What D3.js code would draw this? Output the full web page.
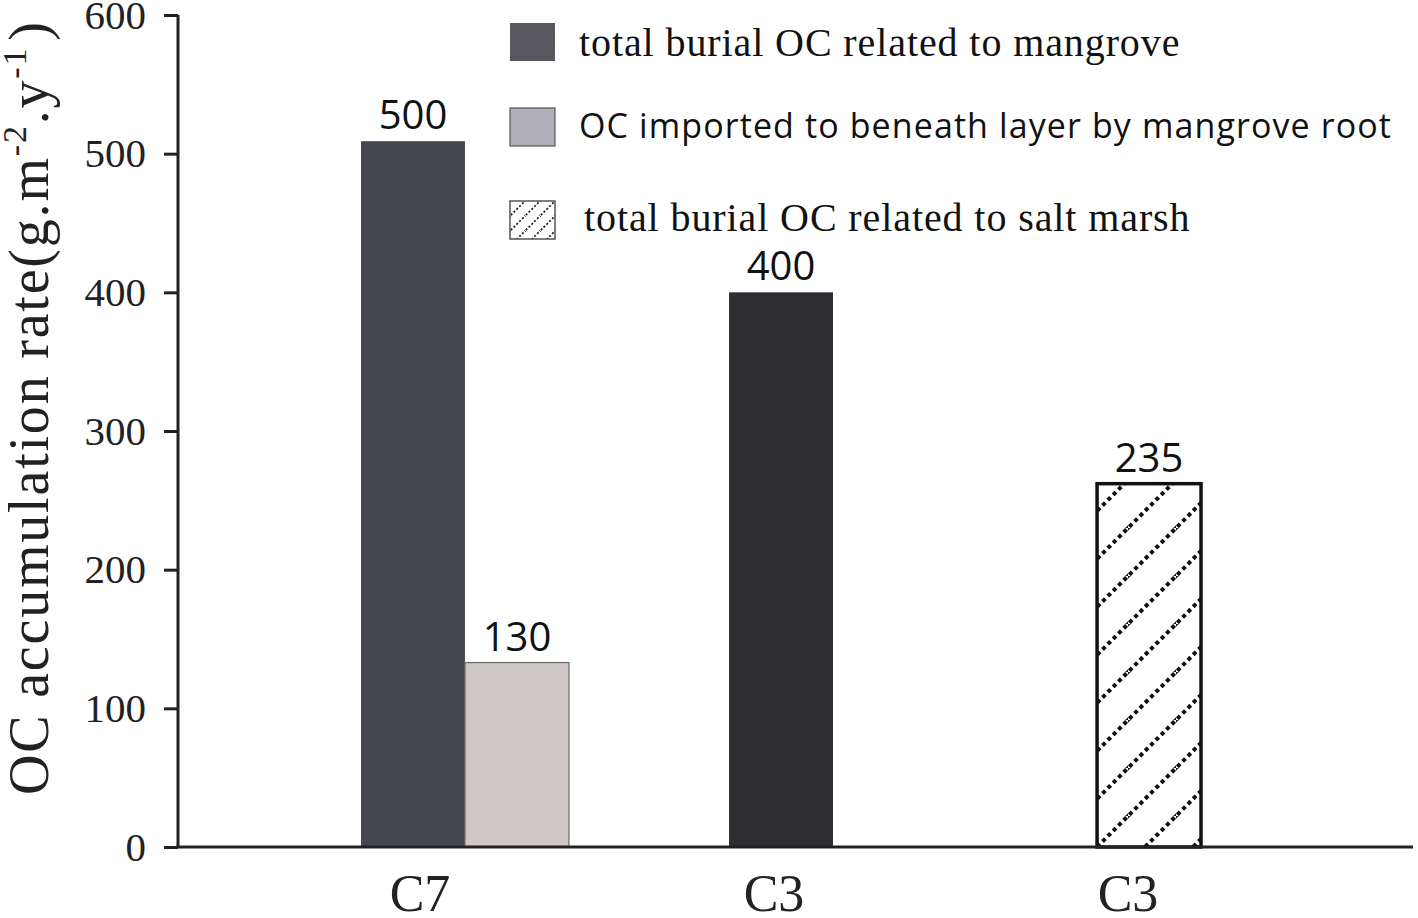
<!DOCTYPE html>
<html>
<head>
<meta charset="utf-8">
<script src="https://cdn.jsdelivr.net/npm/d3@7"></script>
<style>
  html, body { margin: 0; padding: 0; background: #fff; }
  svg { display: block; }
</style>
</head>
<body>
<svg id="chart" width="1418" height="918"></svg>
<script>
// ---- data ----
const categories = ["C7", "C3", "C3"];
const seriesNames = [
  "total burial OC related to mangrove",
  "OC imported to beneath layer by mangrove root",
  "total burial OC related to salt marsh"
];
const barGroup  = [0, 0, 1, 2];
const barSlot   = [0, 1, 0, 0];
const barSeries = [0, 1, 0, 2];
const barValues = [509, 133, 400, 262];
const barLabels = ["500", "130", "400", "235"];
const yTicks = [0, 100, 200, 300, 400, 500, 600];

// ---- styles ----
const barFills   = ["#46464f", "#d1c7c7", "#2d2d32", "url(#hatch)"];
const barStrokes = ["none", "#6a6a6a", "none", "#111"];
const barStrokeW = [0, 1.2, 0, 3.5];
const legendFills = ["#58585e", "#b0aeb8", "url(#hatchSmall)"];
const legendFonts = ["'Liberation Serif', 'Times New Roman', serif", "'Open Sans', sans-serif", "'Liberation Serif', 'Times New Roman', serif"];

const svg = d3.select("#chart");
svg.append("rect").attr("width", 1418).attr("height", 918).attr("fill", "#fff");

const defs = svg.append("defs");
const hatch = defs.append("pattern").attr("id", "hatch")
  .attr("patternUnits", "userSpaceOnUse").attr("width", 48).attr("height", 48)
  .attr("x", 24).attr("y", 0);
hatch.append("rect").attr("width", 48).attr("height", 48).attr("fill", "#fff");
hatch.append("path").attr("d", "M-4,52 L52,-4 M-28,28 L28,-28 M20,76 L76,20")
  .attr("stroke", "#111").attr("stroke-width", 4).attr("stroke-dasharray", "4,3.5");

const hs = defs.append("pattern").attr("id", "hatchSmall")
  .attr("patternUnits", "userSpaceOnUse").attr("width", 15).attr("height", 15);
hs.append("rect").attr("width", 15).attr("height", 15).attr("fill", "#fff");
hs.append("path").attr("d", "M-2,17 L17,-2 M-9.5,9.5 L9.5,-9.5 M5.5,24.5 L24.5,5.5")
  .attr("stroke", "#222").attr("stroke-width", 1.8).attr("stroke-dasharray", "2,2");

// ---- scales ----
const y = d3.scaleLinear().domain([0, 600]).range([847, 15]);
const x = d3.scaleBand().domain(d3.range(categories.length))
  .range([361, 1305]).paddingInner(0.435).paddingOuter(0);
const xs = d3.scaleBand().domain([0, 1]).range([0, x.bandwidth()]);
const xLabel = d3.scalePoint().domain(d3.range(categories.length)).range([420, 1128]);

// ---- bars ----
const bars = barValues.map((v, i) => ({ i, v, g: barGroup[i], s: barSlot[i], label: barLabels[i] }));

svg.append("g").selectAll("rect").data(bars).join("rect")
  .attr("x", d => x(d.g) + xs(d.s))
  .attr("y", d => y(d.v))
  .attr("width", xs.bandwidth())
  .attr("height", d => y(0) - y(d.v))
  .attr("fill", d => barFills[d.i])
  .attr("stroke", d => barStrokes[d.i])
  .attr("stroke-width", d => barStrokeW[d.i]);

svg.append("g").selectAll("text").data(bars).join("text")
  .attr("x", d => x(d.g) + xs(d.s) + xs.bandwidth() / 2)
  .attr("y", d => y(d.v) - 12)
  .attr("text-anchor", "middle")
  .attr("font-family", "'Open Sans', sans-serif")
  .attr("font-size", 40)
  .attr("fill", "#111")
  .text(d => d.label);

// ---- axes ----
const yAxis = d3.axisLeft(y).tickValues(yTicks).tickSize(14).tickPadding(18).tickFormat(d3.format("d"));
const gy = svg.append("g").attr("transform", "translate(178,0)").call(yAxis);
gy.select(".domain").attr("stroke", "#222").attr("stroke-width", 3).attr("d", `M0,${y(600)}V${y(0)}`);
gy.selectAll(".tick line").attr("stroke", "#222").attr("stroke-width", 3);
gy.selectAll(".tick text")
  .attr("font-family", "'Liberation Serif', 'Times New Roman', serif")
  .attr("font-size", 41).attr("fill", "#222");

svg.append("line").attr("x1", 176.5).attr("x2", 1413).attr("y1", y(0)).attr("y2", y(0))
  .attr("stroke", "#222").attr("stroke-width", 3);

svg.append("g").selectAll("text").data(categories).join("text")
  .attr("x", (d, i) => xLabel(i))
  .attr("y", 911)
  .attr("text-anchor", "middle")
  .attr("font-family", "'Liberation Serif', 'Times New Roman', serif")
  .attr("font-size", 52).attr("fill", "#222")
  .text(d => d);

// ---- y label ----
const yl = svg.append("text")
  .attr("transform", "translate(48,795) rotate(-90)")
  .attr("font-family", "'Liberation Serif', 'Times New Roman', serif")
  .attr("font-size", 56).attr("fill", "#222").attr("letter-spacing", 1.8);
yl.append("tspan").text("OC accumulation rate(g.m");
yl.append("tspan").attr("font-size", 34).attr("dy", -22).text("-2");
yl.append("tspan").attr("dy", 22).text(".y");
yl.append("tspan").attr("font-size", 34).attr("dy", -22).text("-1");
yl.append("tspan").attr("dy", 22).attr("dx", 6).text(")");

// ---- legend ----
const legendRow = d3.scalePoint().domain(d3.range(seriesNames.length)).range([23, 201]);
const lg = svg.append("g").selectAll("g").data(seriesNames).join("g")
  .attr("transform", (d, i) => `translate(510,${legendRow(i)})`);
lg.append("rect").attr("width", 45).attr("height", 38)
  .attr("y", (d, i) => i === 1 ? -4 : 0)
  .attr("fill", (d, i) => legendFills[i])
  .attr("stroke", (d, i) => i === 0 ? "none" : "#555")
  .attr("stroke-width", (d, i) => i === 2 ? 1.5 : 1.2);
lg.append("text")
  .attr("x", (d, i) => i === 2 ? 74 : 69)
  .attr("y", (d, i) => i === 1 ? 26 : (i === 2 ? 30 : 33))
  .attr("font-family", (d, i) => legendFonts[i])
  .attr("font-size", (d, i) => i === 1 ? 34 : 40)
  .attr("letter-spacing", (d, i) => i === 1 ? 1.1 : 0.9)
  .attr("fill", "#111")
  .text(d => d);
</script>
</body>
</html>
